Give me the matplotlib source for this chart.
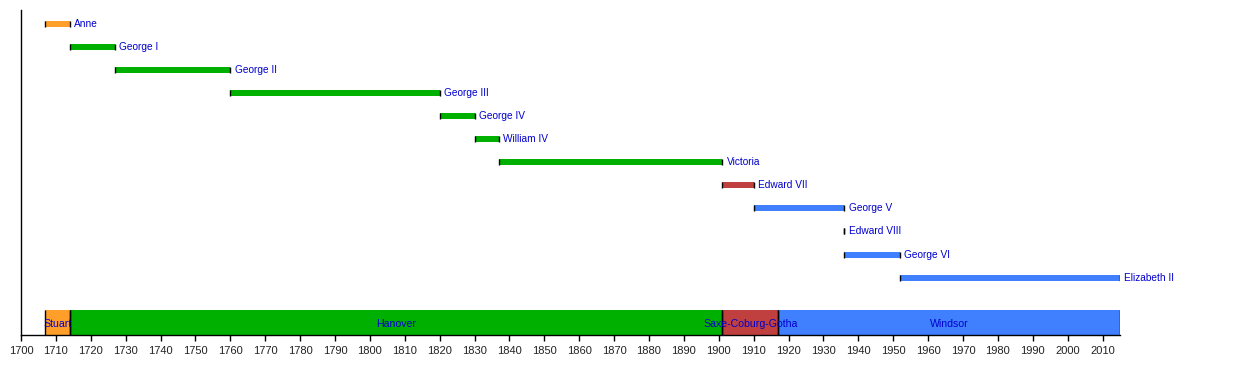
import matplotlib.pyplot as plt

# monarchs of Great Britain / UK
monarchs = ['Anne', 'George I', 'George II', 'George III', 'George IV', 'William IV',
            'Victoria', 'Edward VII', 'George V', 'Edward VIII', 'George VI', 'Elizabeth II']
reign_start = [1707, 1714, 1727, 1760, 1820, 1830, 1837, 1901, 1910, 1936, 1936, 1952]
reign_end = [1714, 1727, 1760, 1820, 1830, 1837, 1901, 1910, 1936, 1936, 1952, 2015]
monarch_house = ['Stuart', 'Hanover', 'Hanover', 'Hanover', 'Hanover', 'Hanover',
                 'Hanover', 'Saxe-Coburg-Gotha', 'Windsor', 'Windsor', 'Windsor', 'Windsor']

houses = ['Stuart', 'Hanover', 'Saxe-Coburg-Gotha', 'Windsor']
house_start = [1707, 1714, 1901, 1917]
house_end = [1714, 1901, 1917, 2015]

house_colors = {'Stuart': '#ff9f2a', 'Hanover': '#00b000',
                'Saxe-Coburg-Gotha': '#c04040', 'Windsor': '#4080ff'}
text_color = '#0000cc'

plt.rcParams['font.family'] = ['Liberation Sans', 'DejaVu Sans']

W, H = 1250, 365
fig = plt.figure(figsize=(W / 100, H / 100), dpi=100)
x0, x1, ytop, ybot = 21, 1120, 10, 335
ax = fig.add_axes([x0 / W, 1 - ybot / H, (x1 - x0) / W, (ybot - ytop) / H])
ax.set_xlim(1700, 2015)
ax.set_ylim(ybot, ytop)  # pixel rows, top down

# reign bars
for i, (name, s, e, h) in enumerate(zip(monarchs, reign_start, reign_end, monarch_house)):
    y = 23.5 + i * 23.1
    ax.barh(y, e - s, left=s, height=6, color=house_colors[h], linewidth=0)
    ax.vlines([s, e], y - 3, y + 3, color='black', linewidth=1.0)
    ax.text(e + 1.2, y, name, color=text_color, fontsize=7.3, va='center', ha='left')

# house band
for name, s, e in zip(houses, house_start, house_end):
    ax.barh(322.5, e - s, left=s, height=25, color=house_colors[name], linewidth=0)
    ax.vlines([s, e], 310, 335, color='black', linewidth=1.0)
    ax.text((s + e) / 2, 324, name, color=text_color, fontsize=7.6, va='center', ha='center')

for sp in ['top', 'right']:
    ax.spines[sp].set_visible(False)
ax.spines['left'].set_linewidth(1.0)
ax.spines['bottom'].set_linewidth(1.0)
ax.set_yticks([])
ax.set_xticks(range(1700, 2011, 10))
ax.tick_params(axis='x', length=4, width=1.0, labelsize=8, labelcolor='#222222', pad=4)

fig.savefig('out.png', dpi=100)
